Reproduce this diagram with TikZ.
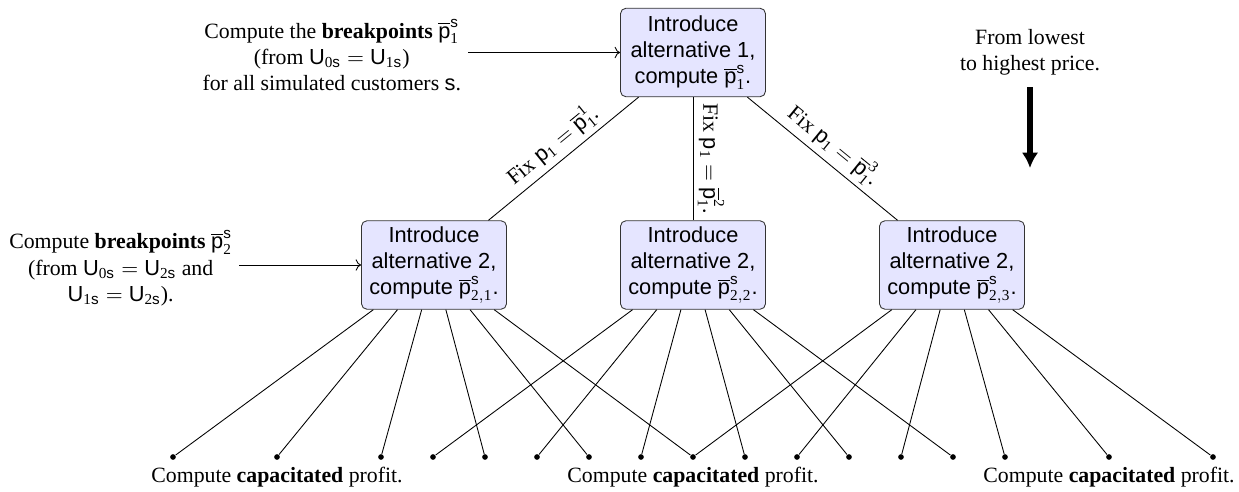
\documentclass[tikz,border=0pt]{standalone}
\usepackage{fontspec}
\setmainfont{Liberation Serif}
\setsansfont{Liberation Sans}
\usetikzlibrary{arrows.meta}
\newcommand{\pb}{\overline{\mathsf{p}}}
\newcommand{\sS}{\mathsf{s}}
\newcommand{\UU}{\mathsf{U}}
\newcommand{\nr}[1]{\mathrm{#1}}
\begin{document}
\begin{tikzpicture}[x=0.4587pt,y=-0.4587pt,
  box/.style={draw=black!80, fill=blue!10, rounded corners=2.5pt, align=center,
    font=\sffamily, minimum width=66.5pt, minimum height=40.6pt, inner sep=2pt},
  dot/.style={circle, fill=black, inner sep=0pt, minimum size=2.6pt},
  edge/.style={draw=black, line width=0.4pt},
  lab/.style={font=\normalsize, inner sep=2pt}]
\useasboundingbox (0,0) rectangle (1239,491);

% boxes
\node[box] (top) at (693,52.5) {Introduce\\alternative 1,\\compute $\pb^{\sS}_{\nr{1}}$.};
\node[box] (m1) at (434,265) {Introduce\\alternative 2,\\compute $\pb^{\sS}_{\nr{2,1}}$.};
\node[box] (m2) at (693,265) {Introduce\\alternative 2,\\compute $\pb^{\sS}_{\nr{2,2}}$.};
\node[box] (m3) at (952,265) {Introduce\\alternative 2,\\compute $\pb^{\sS}_{\nr{2,3}}$.};

% side texts
\node[align=center, anchor=east, inner sep=3pt] (t1) at (468,55)
  {Compute the \textbf{breakpoints} $\pb^{\sS}_{\nr{1}}$\\(from $\UU_{\nr{0}\sS} = \UU_{\nr{1}\sS}$)\\for all simulated customers $\sS$.};
\draw[->] (t1.east |- top.west) -- (top.west);

\node[align=center, anchor=east, inner sep=3pt] (t2) at (239,268)
  {Compute \textbf{breakpoints} $\pb^{\sS}_{\nr{2}}$\\(from $\UU_{\nr{0}\sS} = \UU_{\nr{2}\sS}$ and\\$\UU_{\nr{1}\sS} = \UU_{\nr{2}\sS}$).};
\draw[->] (t2.east |- m1.west) -- (m1.west);

\node[align=center] (t3) at (1030,52) {From lowest\\to highest price.};
\coordinate (a3) at (1030,168);
\draw[line width=2.5pt, -{Latex[length=7pt,width=7.5pt]}, shorten <=2pt] (t3) -- (a3);

% top edges
\draw[edge] (top) -- node[midway, sloped, above, lab] {Fix $\mathsf{p}_{\nr{1}} = \pb^{\nr{1}}_{\nr{1}}$.} (m1);
\draw[edge] (top) -- node[midway, rotate=-90, anchor=south, lab] {Fix $\mathsf{p}_{\nr{1}} = \pb^{\nr{2}}_{\nr{1}}$.} (m2);
\draw[edge] (top) -- node[midway, sloped, above, lab] {Fix $\mathsf{p}_{\nr{1}} = \pb^{\nr{3}}_{\nr{1}}$.} (m3);

% leaves
\foreach \i in {0,2,4,5,...,16,18,20}
  \node[dot] (d\i) at (173+52*\i,457) {};
\foreach \i in {0,2,4,6,8,10} \draw[edge] (m1) -- (d\i);
\foreach \i in {5,7,9,11,13,15} \draw[edge] (m2) -- (d\i);
\foreach \i in {10,12,14,16,18,20} \draw[edge] (m3) -- (d\i);

\node[anchor=base] (c1) at (277,482) {Compute \textbf{capacitated} profit.};
\node[anchor=base] (c2) at (693,482) {Compute \textbf{capacitated} profit.};
\node[anchor=base] (c3) at (1109,482) {Compute \textbf{capacitated} profit.};
\end{tikzpicture}
\end{document}
